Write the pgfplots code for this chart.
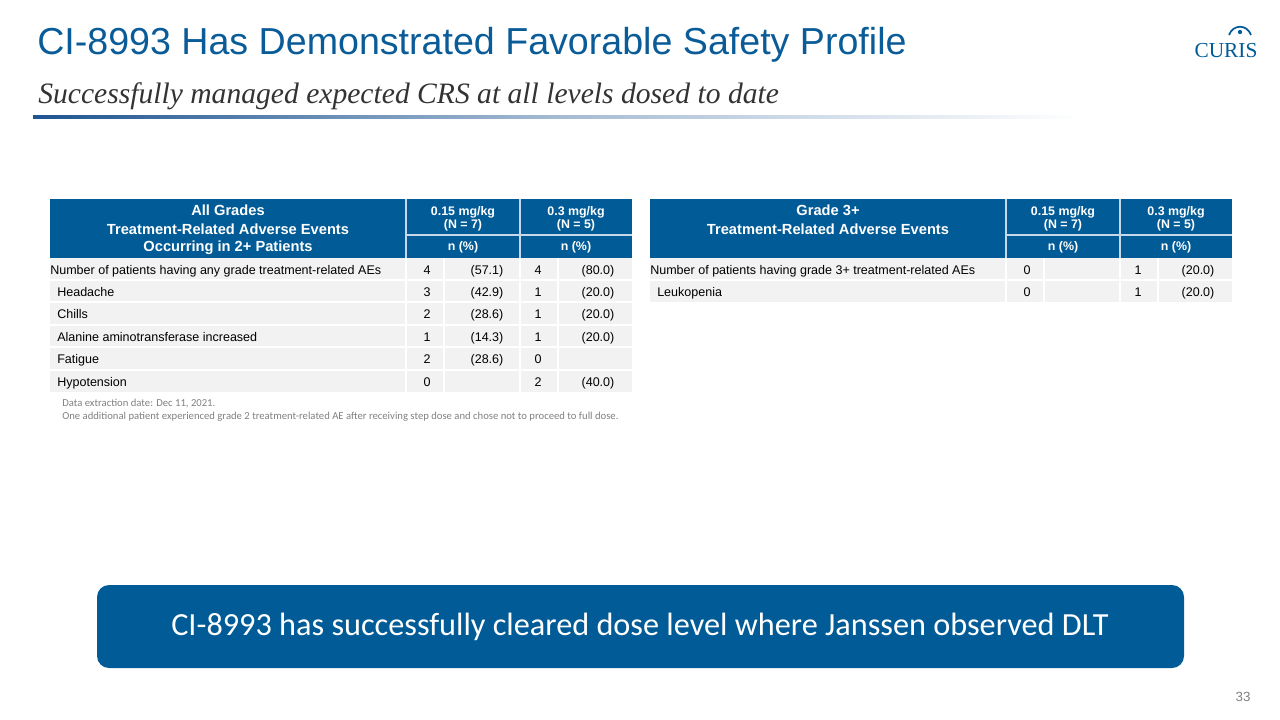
\documentclass[border=0pt]{standalone}
\usepackage{pgfplots}
\pgfplotsset{compat=1.18}
\usepackage{pgfplotstable}
\usepackage{fontspec}
\setmainfont{Liberation Sans}
\newfontfamily\carlito{Carlito}
\newfontfamily\libserif{Liberation Serif}
\definecolor{hdr}{RGB}{0,91,150}
\definecolor{titleblue}{RGB}{10,92,152}
\definecolor{rowgray}{RGB}{242,242,242}
\definecolor{seplight}{RGB}{200,216,235}
\definecolor{subgray}{RGB}{51,51,51}
\definecolor{footgray}{RGB}{128,128,128}
\definecolor{lineblue}{RGB}{30,85,145}

% numeric cells of both tables (x = cell centre, y = text baseline, in slide pixels)
\pgfplotstableread{
x y lab
427 274 4
487 274 (57.1)
538 274 4
598 274 (80.0)
427 296.4 3
487 296.4 (42.9)
538 296.4 1
598 296.4 (20.0)
427 318.8 2
487 318.8 (28.6)
538 318.8 1
598 318.8 (20.0)
427 341.2 1
487 341.2 (14.3)
538 341.2 1
598 341.2 (20.0)
427 363.6 2
487 363.6 (28.6)
538 363.6 0
427 386 0
538 386 2
598 386 (40.0)
}\lefttab
\pgfplotstableread{
x y lab
1027 274 0
1138 274 1
1198 274 (20.0)
1027 296.4 0
1138 296.4 1
1198 296.4 (20.0)
}\righttab

\newcommand\datafont{\fontsize{9.4}{11}\selectfont}
\newcommand\hfont{\fontsize{11}{13}\selectfont\bfseries}
\newcommand\dfont{\fontsize{9.3}{11}\selectfont\bfseries}

\begin{document}
\begin{tikzpicture}
\begin{axis}[
  scale only axis, width=960pt, height=540pt,
  xmin=0, xmax=1280, ymin=0, ymax=720, y dir=reverse,
  hide axis, clip=false,
  every node near coord/.append style={anchor=base, font=\datafont, inner sep=0pt},
]
\path (0,0) rectangle (1280,720);

% ---- title block
\node[anchor=base west, inner sep=0pt, text=titleblue, font=\fontsize{28.2}{32}\selectfont] at (37,55) {CI-8993 Has Demonstrated Favorable Safety Profile};
\node[anchor=base west, inner sep=0pt, text=subgray, font=\fontsize{22.2}{26}\selectfont\libserif\itshape] at (38,104) {Successfully managed expected CRS at all levels dosed to date};
\shade[left color=lineblue, right color=white, middle color=lineblue!40] (33,116) rectangle (1083,119);

% ---- logo
\node[anchor=base, inner sep=0pt, text=hdr, font=\fontsize{16}{18}\selectfont\libserif] at (1226,58) {CURIS};
\draw[hdr, line width=1.3pt] (1229,35) .. controls (1233,24) and (1247,24) .. (1251,35);
\fill[hdr] (1240,32) circle (1.6pt);

% ---- left table
\fill[hdr] (50,199) rectangle (632,258);
\draw[seplight, line width=1.4pt] (406,199) -- (406,258) (520,199) -- (520,258) (406,235) -- (632,235);
\fill[rowgray] (50,258) rectangle (632,392);
\draw[white, line width=1.5pt] (50,279.5) -- (632,279.5) (50,302) -- (632,302) (50,324.5) -- (632,324.5) (50,347) -- (632,347) (50,369.5) -- (632,369.5);
\draw[white, line width=1.5pt] (406,258) -- (406,392) (444,258) -- (444,392) (520,258) -- (520,392) (558,258) -- (558,392);
\node[anchor=base, text=white, font=\hfont, inner sep=0pt] at (228,216) {All Grades};
\node[anchor=base, text=white, font=\hfont, inner sep=0pt] at (228,234) {Treatment-Related Adverse Events};
\node[anchor=base, text=white, font=\hfont, inner sep=0pt] at (228,251.5) {Occurring in 2+ Patients};
\node[anchor=base, text=white, font=\dfont, inner sep=0pt] at (463,215) {0.15 mg/kg};
\node[anchor=base, text=white, font=\dfont, inner sep=0pt] at (463,228.5) {(N = 7)};
\node[anchor=base, text=white, font=\dfont, inner sep=0pt] at (463,251) {n (\%)};
\node[anchor=base, text=white, font=\dfont, inner sep=0pt] at (576,215) {0.3 mg/kg};
\node[anchor=base, text=white, font=\dfont, inner sep=0pt] at (576,228.5) {(N = 5)};
\node[anchor=base, text=white, font=\dfont, inner sep=0pt] at (576,251) {n (\%)};
\node[anchor=base west, font=\datafont, inner sep=0pt] at (50,274) {Number of patients having any grade treatment-related AEs};
\node[anchor=base west, font=\datafont, inner sep=0pt] at (57,296.4) {Headache};
\node[anchor=base west, font=\datafont, inner sep=0pt] at (57,318.8) {Chills};
\node[anchor=base west, font=\datafont, inner sep=0pt] at (57,341.2) {Alanine aminotransferase increased};
\node[anchor=base west, font=\datafont, inner sep=0pt] at (57,363.6) {Fatigue};
\node[anchor=base west, font=\datafont, inner sep=0pt] at (57,386) {Hypotension};
\addplot[only marks, mark=none, nodes near coords, point meta=explicit symbolic] table[x=x, y=y, meta=lab] {\lefttab};

\node[anchor=base west, inner sep=0pt, text=footgray, font=\fontsize{8}{9}\selectfont\carlito] at (62,406.5) {Data extraction date: Dec 11, 2021.};
\node[anchor=base west, inner sep=0pt, text=footgray, font=\fontsize{8}{9}\selectfont\carlito] at (62,419.5) {One additional patient experienced grade 2 treatment-related AE after receiving step dose and chose not to proceed to full dose.};

% ---- right table
\fill[hdr] (650,199) rectangle (1232,258);
\draw[seplight, line width=1.4pt] (1006,199) -- (1006,258) (1120,199) -- (1120,258) (1006,235) -- (1232,235);
\fill[rowgray] (650,258) rectangle (1232,302);
\draw[white, line width=1.5pt] (650,279.5) -- (1232,279.5);
\draw[white, line width=1.5pt] (1006,258) -- (1006,302) (1044,258) -- (1044,302) (1120,258) -- (1120,302) (1158,258) -- (1158,302);
\node[anchor=base, text=white, font=\hfont, inner sep=0pt] at (828,216) {Grade 3+};
\node[anchor=base, text=white, font=\hfont, inner sep=0pt] at (828,234) {Treatment-Related Adverse Events};
\node[anchor=base, text=white, font=\dfont, inner sep=0pt] at (1063,215) {0.15 mg/kg};
\node[anchor=base, text=white, font=\dfont, inner sep=0pt] at (1063,228.5) {(N = 7)};
\node[anchor=base, text=white, font=\dfont, inner sep=0pt] at (1063,251) {n (\%)};
\node[anchor=base, text=white, font=\dfont, inner sep=0pt] at (1176,215) {0.3 mg/kg};
\node[anchor=base, text=white, font=\dfont, inner sep=0pt] at (1176,228.5) {(N = 5)};
\node[anchor=base, text=white, font=\dfont, inner sep=0pt] at (1176,251) {n (\%)};
\node[anchor=base west, font=\datafont, inner sep=0pt] at (650,274) {Number of patients having grade 3+ treatment-related AEs};
\node[anchor=base west, font=\datafont, inner sep=0pt] at (657,296.4) {Leukopenia};
\addplot[only marks, mark=none, nodes near coords, point meta=explicit symbolic] table[x=x, y=y, meta=lab] {\righttab};

% ---- banner
\fill[hdr, rounded corners=9pt] (97,585) rectangle (1184,668);
\node[text=white, inner sep=0pt, font=\fontsize{24.2}{28}\selectfont\carlito] at (640,627) {CI-8993 has successfully cleared dose level where Janssen observed DLT};

% ---- page number
\node[text=footgray, inner sep=0pt, font=\fontsize{10}{12}\selectfont] at (1243,697) {33};
\end{axis}
\end{tikzpicture}
\end{document}
